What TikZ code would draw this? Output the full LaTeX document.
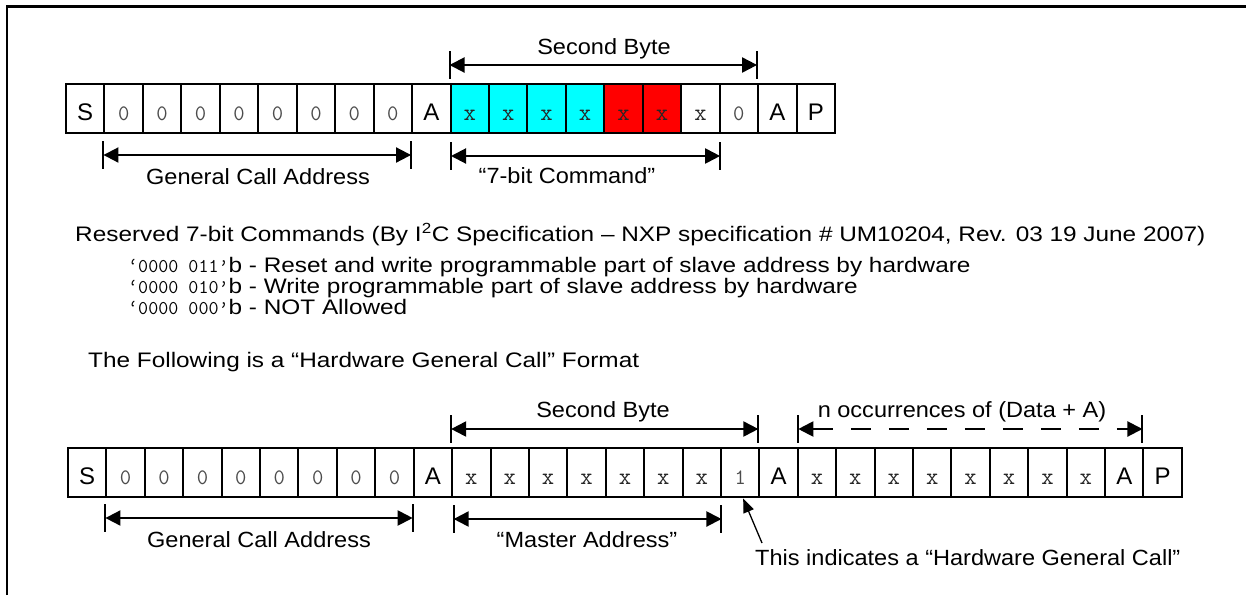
\documentclass[tikz,border=0pt]{standalone}
\usepackage{graphicx}
\usepackage{fontspec}
\setmainfont{Liberation Sans}
\usetikzlibrary{arrows.meta,calc}
\definecolor{cyanc}{RGB}{0,255,255}
\definecolor{redc}{RGB}{255,0,0}
\newcommand\bodytxt[1]{\scalebox{1.16}[1]{\fontsize{21}{21}\selectfont #1}}
\newcommand\lbltxt[1]{\scalebox{1.07}[1]{\fontsize{22}{22}\selectfont #1}}
\newcommand\monotxt[1]{{\ttfamily\fontsize{19.5}{19.5}\selectfont #1}}
\begin{document}
\begin{tikzpicture}[x=1pt,y=-1pt,
  cellbase/.style={draw,line width=2pt,minimum height=49pt,inner sep=0pt,text height=24pt,text depth=0pt},
  csym/.style={cellbase,font=\fontsize{24}{24}\selectfont},
  czero/.style={cellbase,text=black!70,font=\ttfamily\fontsize{22}{22}\selectfont},
  cx/.style={cellbase,text=black!85,font=\ttfamily\fontsize{24}{24}\selectfont},
  ccyan/.style={cx,fill=cyanc},
  cred/.style={cx,fill=redc},
  lbl/.style={inner sep=0pt},
  body/.style={inner sep=0pt},
  dimarrow/.style={line width=2pt,{Triangle[length=15pt,width=15pt]}-{Triangle[length=15pt,width=15pt]}},
  dasharrow/.style={dimarrow,dash pattern=on 20pt off 18pt},
  tickln/.style={line width=2pt},
  pointer/.style={line width=1.3pt,-{Triangle[length=14pt,width=11pt]}},
  framel/.style={line width=2.5pt}
]
\useasboundingbox (0,0) rectangle (1246,595);
\draw[framel] (7,595) -- (7,6.5) -- (1246,6.5);

% ---------- top row ----------
\foreach \t/\s [count=\i from 0] in {S/csym,0/czero,0/czero,0/czero,0/czero,0/czero,0/czero,0/czero,0/czero,A/csym,x/ccyan,x/ccyan,x/ccyan,x/ccyan,x/cred,x/cred,x/cx,0/czero,A/csym,P/csym}
  \node[\s,minimum width=38.45pt] (t\i) at ({66+(\i+0.5)*38.45},108.5) {\t};

% Second Byte (top)
\coordinate (sbA) at (t10.west |- 0,65);
\coordinate (sbB) at (t18.west |- 0,65);
\draw[tickln] ($(sbA)+(0,-14)$) -- ($(sbA)+(0,14)$);
\draw[tickln] ($(sbB)+(0,-14)$) -- ($(sbB)+(0,14)$);
\draw[dimarrow] (sbA) -- (sbB);
\node[lbl,anchor=base] (sbtxt) at (604,54) {\lbltxt{Second Byte}};

% General Call Address (top)
\coordinate (gcA) at (t1.west |- 0,155);
\coordinate (gcB) at (t9.west |- 0,155);
\draw[tickln] ($(gcA)+(0,-14)$) -- ($(gcA)+(0,14)$);
\draw[tickln] ($(gcB)+(0,-14)$) -- ($(gcB)+(0,14)$);
\draw[dimarrow] (gcA) -- (gcB);
\node[lbl,anchor=base] (gctxt) at (258,184) {\lbltxt{General Call Address}};

% 7-bit Command
\coordinate (cmA) at ($(t10.west |- 0,156)+(1.5,0)$);
\coordinate (cmB) at ($(t17.west |- 0,156)+(1.5,0)$);
\draw[tickln] ($(cmA)+(0,-14)$) -- ($(cmA)+(0,14)$);
\draw[tickln] ($(cmB)+(0,-14)$) -- ($(cmB)+(0,14)$);
\draw[dimarrow] (cmA) -- (cmB);
\node[lbl,anchor=base] (cmtxt) at (567,183) {\lbltxt{“7-bit Command”}};

% ---------- text block ----------
\node[body,anchor=base west] (res) at (75,241) {\bodytxt{Reserved 7-bit Commands (By I\textsuperscript{2}C Specification – NXP specification \# UM10204, Rev. 03 19 June 2007)}};
\node[body,anchor=base west] (r1) at (128,272) {\monotxt{‘0000 011’}\bodytxt{b - Reset and write programmable part of slave address by hardware}};
\node[body,anchor=base west] (r2) at (128,293) {\monotxt{‘0000 010’}\bodytxt{b - Write programmable part of slave address by hardware}};
\node[body,anchor=base west] (r3) at (128,314) {\monotxt{‘0000 000’}\bodytxt{b - NOT Allowed}};
\node[body,anchor=base west] (fol) at (88,367) {\bodytxt{The Following is a “Hardware General Call” Format}};

% ---------- bottom row ----------
\foreach \t/\s [count=\i from 0] in {S/csym,0/czero,0/czero,0/czero,0/czero,0/czero,0/czero,0/czero,0/czero,A/csym,x/cx,x/cx,x/cx,x/cx,x/cx,x/cx,x/cx,1/czero,A/csym,x/cx,x/cx,x/cx,x/cx,x/cx,x/cx,x/cx,x/cx,A/csym,P/csym}
  \node[\s,minimum width=38.41pt] (b\i) at ({68+(\i+0.5)*38.41},472) {\t};

% Second Byte (bottom)
\coordinate (bsA) at (b10.west |- 0,429);
\coordinate (bsB) at (b18.west |- 0,429);
\draw[tickln] ($(bsA)+(0,-14)$) -- ($(bsA)+(0,14)$);
\draw[tickln] ($(bsB)+(0,-14)$) -- ($(bsB)+(0,14)$);
\draw[dimarrow] (bsA) -- (bsB);
\node[lbl,anchor=base] (bstxt) at (603,417) {\lbltxt{Second Byte}};

% n occurrences
\coordinate (noA) at ($(b19.west |- 0,429)+(1.5,0)$);
\coordinate (noB) at (b28.west |- 0,429);
\draw[tickln] ($(noA)+(0,-14)$) -- ($(noA)+(0,14)$);
\draw[tickln] ($(noB)+(0,-14)$) -- ($(noB)+(0,14)$);
\draw[dasharrow] (noA) -- (noB);
\node[lbl,anchor=base] (notxt) at (962,417) {\lbltxt{n occurrences of (Data + A)}};

% General Call Address (bottom)
\coordinate (bgA) at (b1.west |- 0,518);
\coordinate (bgB) at (b9.west |- 0,518);
\draw[tickln] ($(bgA)+(0,-14)$) -- ($(bgA)+(0,14)$);
\draw[tickln] ($(bgB)+(0,-14)$) -- ($(bgB)+(0,14)$);
\draw[dimarrow] (bgA) -- (bgB);
\node[lbl,anchor=base] (bgtxt) at (259,547) {\lbltxt{General Call Address}};

% Master Address
\coordinate (maA) at ($(b10.west |- 0,519)+(2.5,0)$);
\coordinate (maB) at ($(b17.west |- 0,519)+(1.5,0)$);
\draw[tickln] ($(maA)+(0,-14)$) -- ($(maA)+(0,14)$);
\draw[tickln] ($(maB)+(0,-14)$) -- ($(maB)+(0,14)$);
\draw[dimarrow] (maA) -- (maB);
\node[lbl,anchor=base] (matxt) at (587,547) {\lbltxt{“Master Address”}};

% pointer
\node[lbl,anchor=base west] (hwtxt) at (755,565) {\lbltxt{This indicates a “Hardware General Call”}};
\coordinate (ptail) at (762,543);
\draw[pointer] (ptail) -- ($(b17.south)+(3,1)$);
\end{tikzpicture}
\end{document}
